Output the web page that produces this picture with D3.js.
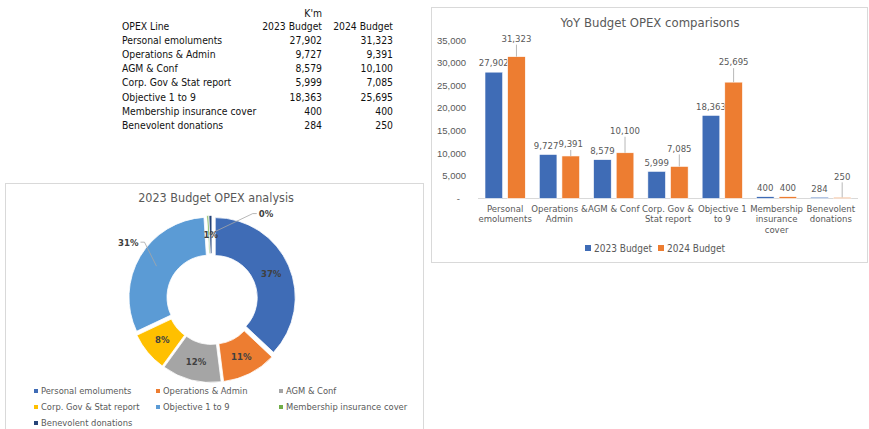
<!DOCTYPE html>
<html lang="en">

<head>
  <meta charset="utf-8">
  <title>OPEX budget</title>
  <style>
    body { margin: 0; background: #fff; }
    svg { font-family: "DejaVu Sans Condensed", "DejaVu Sans", sans-serif; font-stretch: condensed; }
    .tbl { font-size: 10.3px; fill: #111; }
    .ttl { font-size: 12.5px; fill: #595959; }
    .lbl { font-size: 9.5px; fill: #595959; }
    .pct { font-size: 9.5px; font-weight: bold; fill: #404040; }
  </style>
</head>

<body>
  <script src="https://cdn.jsdelivr.net/npm/d3@7"></script>
  <script>

  // data
  var categories = ["Personal emoluments", "Operations & Admin", "AGM & Conf", "Corp. Gov & Stat report",
    "Objective 1 to 9", "Membership insurance cover", "Benevolent donations"];
  var budget2023 = [27902, 9727, 8579, 5999, 18363, 400, 284];
  var budget2024 = [31323, 9391, 10100, 7085, 25695, 400, 250];
  var seriesNames = ["2023 Budget", "2024 Budget"];
  var pieShares = [37, 11, 12, 8, 31, 0.4, 0.6];   // shares as labelled on the donut (%)
  var axisLabels = [["Personal", "emoluments"], ["Operations &", "Admin"], ["AGM & Conf"], ["Corp. Gov &", "Stat report"],
    ["Objective 1", "to 9"], ["Membership", "insurance", "cover"], ["Benevolent", "donations"]];
  var yTicks = [0, 5000, 10000, 15000, 20000, 25000, 30000, 35000];

  // layout bits (not data)
  var lift2024 = [18, 12, 22, 18, 20, 9, 21];
  var nudge2023 = [0, -2, 0, 0, 0, 0, 0];
  var sliceColors = ["#3f6cb6", "#ed7d31", "#a5a5a5", "#ffc000", "#5b9bd5", "#70ad47", "#264478"];
  var seriesColors = ["#3f6cb6", "#ed7d31"];

  var fmt = d3.format(",");

  var svg = d3.select("body").append("svg")
  .attr("width", 869)
  .attr("height", 429);

  // ---------- table ----------
  var rowBase = function(i) { return 29.5 + i * 14.2; };
  var tbl = svg.append("g").attr("class", "tbl");

  tbl.append("text").attr("x", 322).attr("y", 16.5).style("text-anchor", "end").text("K'm");
  tbl.append("text").attr("x", 122).attr("y", rowBase(0)).text("OPEX Line");
  tbl.append("text").attr("x", 322).attr("y", rowBase(0)).style("text-anchor", "end").text(seriesNames[0]);
  tbl.append("text").attr("x", 393).attr("y", rowBase(0)).style("text-anchor", "end").text(seriesNames[1]);

  var rows = tbl.selectAll(".row")
  .data(categories)
  .enter().append("g")
  .attr("class", "row")
  .attr("transform", function(d, i) { return "translate(0," + rowBase(i + 1) + ")"; });

  rows.append("text").attr("x", 122).text(function(d) { return d; });
  rows.append("text").attr("x", 322).style("text-anchor", "end")
  .text(function(d, i) { return fmt(budget2023[i]); });
  rows.append("text").attr("x", 393).style("text-anchor", "end")
  .text(function(d, i) { return fmt(budget2024[i]); });

  // ---------- donut ----------
  svg.append("rect")
  .attr("x", 5.5).attr("y", 183.5).attr("width", 418).attr("height", 260)
  .style("fill", "#fff").style("stroke", "#d9d9d9");

  svg.append("text").attr("class", "ttl")
  .attr("x", 216).attr("y", 202).style("text-anchor", "middle")
  .text("2023 Budget OPEX analysis");

  var cx = 212, cy = 299, explode = 3.5;
  var pie = d3.pie().sort(null).value(function(d) { return d; });
  var arc = d3.arc().innerRadius(42).outerRadius(80);
  var labelArc = d3.arc().innerRadius(61).outerRadius(61);
  var slices = pie(pieShares);

  function shift(d) {
    var a = (d.startAngle + d.endAngle) / 2;
    return [Math.sin(a) * explode, -Math.cos(a) * explode];
  }

  var donut = svg.append("g").attr("transform", "translate(" + cx + "," + cy + ")");

  donut.selectAll(".slice")
  .data(slices)
  .enter().append("path")
  .attr("class", "slice")
  .attr("d", arc)
  .attr("transform", function(d) { var s = shift(d); return "translate(" + s[0] + "," + s[1] + ")"; })
  .style("fill", function(d, i) { return sliceColors[i]; })
  .style("stroke", "#fff")
  .style("stroke-width", 0.8);

  // leader-lined labels: elbow offset from centroid, then horizontal tail
  var outside = { 4: { dx: -12, dy: -24, tail: -4 }, 5: { dx: 44, dy: -21, tail: 4 } };

  slices.forEach(function(d, i) {
    var c = labelArc.centroid(d), s = shift(d);
    var x = c[0] + s[0], y = c[1] + s[1];
    var txt = Math.round(pieShares[i]) + "%";
    var o = outside[i];
    if (o) {
      donut.append("polyline")
      .attr("points", [[x, y], [x + o.dx, y + o.dy], [x + o.dx + o.tail, y + o.dy]].join(" "))
      .style("fill", "none").style("stroke", "#a6a6a6").style("stroke-width", 0.8);
      donut.append("text").attr("class", "pct")
      .attr("x", x + o.dx + o.tail + (o.tail < 0 ? -2 : 2))
      .attr("y", y + o.dy)
      .attr("dy", ".35em")
      .style("text-anchor", o.tail < 0 ? "end" : "start")
      .text(txt);
    } else {
      donut.append("text").attr("class", "pct")
      .attr("x", x).attr("y", y).attr("dy", ".35em")
      .style("text-anchor", "middle")
      .text(txt);
    }
  });

  var pieLegend = svg.selectAll(".plegend")
  .data(categories)
  .enter().append("g")
  .attr("class", "plegend")
  .attr("transform", function(d, i) { return "translate(" + [34, 156, 279][i % 3] + "," + (391 + Math.floor(i / 3) * 16) + ")"; });

  pieLegend.append("rect")
  .attr("x", 0).attr("y", -2).attr("width", 4).attr("height", 4)
  .style("fill", function(d, i) { return sliceColors[i]; });

  pieLegend.append("text").attr("class", "lbl")
  .attr("x", 7).attr("dy", ".35em")
  .style("font-size", "9.3px")
  .text(function(d) { return d; });

  // ---------- bar chart ----------
  svg.append("rect")
  .attr("x", 431.5).attr("y", 7.5).attr("width", 436).attr("height", 255)
  .style("fill", "#fff").style("stroke", "#d9d9d9");

  svg.append("text").attr("class", "ttl")
  .attr("x", 650).attr("y", 26.5).style("text-anchor", "middle")
  .style("font-size", "13px")
  .text("YoY Budget OPEX comparisons");

  var scaleX = d3.scaleBand().domain(categories).range([478, 858]);
  var bw = scaleX.bandwidth();
  var scaleS = d3.scaleBand().domain(seriesNames).range([7, bw - 7]).paddingInner(0.22);
  var scaleY = d3.scaleLinear().domain([0, 35000]).range([198.5, 40]);

  var yAxis = d3.axisLeft(scaleY)
  .tickValues(yTicks)
  .tickSize(0)
  .tickPadding(0)
  .tickFormat(function(d) { return d === 0 ? "-" : fmt(d); });

  var yg = svg.append("g")
  .attr("transform", "translate(466,0)")
  .call(yAxis);
  yg.select(".domain").remove();
  yg.selectAll("text").attr("class", "lbl").attr("fill", null).style("font-family", null)
  .attr("dx", function(d) { return d === 0 ? "-6" : 0; });

  svg.append("line")
  .attr("x1", 478).attr("x2", 858)
  .attr("y1", scaleY(0)).attr("y2", scaleY(0))
  .style("stroke", "#d9d9d9");

  var groups = svg.selectAll(".cat")
  .data(categories)
  .enter().append("g")
  .attr("class", "cat")
  .attr("transform", function(d) { return "translate(" + scaleX(d) + ",0)"; });

  [budget2023, budget2024].forEach(function(vals, s) {
    var xo = scaleS(seriesNames[s]);
    groups.append("rect")
    .attr("x", xo)
    .attr("y", function(d, i) { return scaleY(vals[i]); })
    .attr("width", scaleS.bandwidth())
    .attr("height", function(d, i) { return scaleY(0) - scaleY(vals[i]); })
    .style("fill", seriesColors[s])
    .style("stroke", "#fff")
    .style("stroke-width", 0.6);

    groups.each(function(d, i) {
      var g = d3.select(this);
      var top = scaleY(vals[i]);
      var lift = s === 0 ? 9 : lift2024[i];
      var mid = xo + scaleS.bandwidth() / 2;
      if (lift > 10) {
        g.append("line")
        .attr("x1", mid).attr("x2", mid)
        .attr("y1", top - lift + 6).attr("y2", top)
        .style("stroke", "#a6a6a6").style("stroke-width", 0.8);
      }
      g.append("text").attr("class", "lbl")
      .attr("x", mid + (s === 0 ? nudge2023[i] : 0)).attr("y", top - lift).attr("dy", ".35em")
      .style("text-anchor", "middle")
      .text(fmt(vals[i]));
    });
  });

  groups.append("text").attr("class", "lbl")
  .attr("x", bw / 2)
  .attr("y", 212)
  .style("text-anchor", "middle")
  .selectAll("tspan")
  .data(function(d, i) { return axisLabels[i]; })
  .enter().append("tspan")
  .attr("x", bw / 2)
  .attr("dy", function(d, j) { return j === 0 ? 0 : 10.3; })
  .text(function(d) { return d; });

  var barLegend = svg.selectAll(".blegend")
  .data(seriesNames)
  .enter().append("g")
  .attr("class", "blegend")
  .attr("transform", function(d, i) { return "translate(" + (585 + i * 73) + ",248)"; });

  barLegend.append("rect")
  .attr("x", 0).attr("y", -3).attr("width", 6).attr("height", 6)
  .style("fill", function(d, i) { return seriesColors[i]; });

  barLegend.append("text").attr("class", "lbl")
  .attr("x", 9).attr("dy", ".35em")
  .style("font-size", "10px")
  .text(function(d) { return d; });

</script>
</body>

</html>
